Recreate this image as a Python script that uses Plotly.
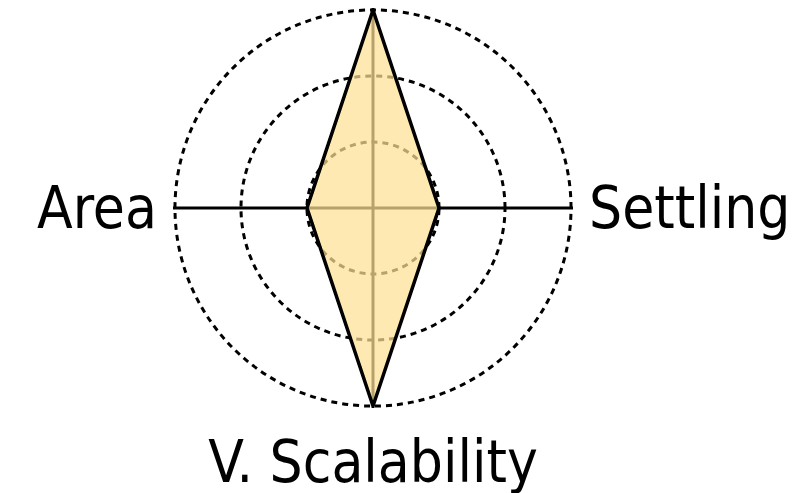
import plotly.graph_objects as go

# axis labels, clockwise from the top
labels = ["Tracking", "Settling", "V. Scalability", "Area"]
scores = [3, 1, 3, 1]
rings = [1, 2, 3]

fig = go.Figure()

fig.add_trace(
    go.Scatterpolar(r=scores + scores[:1],
                    theta=labels + labels[:1],
                    mode="lines",
                    fill="toself",
                    fillcolor="rgba(253,224,150,0.72)",
                    line=dict(color="black", width=3.5),
                    showlegend=False,
                    hoverinfo="skip"))

fig.update_layout(
    width=800, height=493,
    margin=dict(l=0, r=0, t=0, b=0),
    paper_bgcolor="white",
    font=dict(family="DejaVu Sans Condensed, DejaVu Sans",
              size=58, color="black"),
    polar=dict(
        domain=dict(x=[164/800, 566/800], y=[(493-400)/493, 1.0]),
        bgcolor="white",
        radialaxis=dict(range=[0, 3.03], tickvals=rings, showticklabels=False,
                        ticks="", showline=False,
                        gridcolor="black", gridwidth=3, griddash="6px,5px",
                        layer="below traces"),
        angularaxis=dict(direction="clockwise", rotation=90,
                         categoryorder="array", categoryarray=labels,
                         showline=False, ticks="outside", ticklen=4,
                         tickcolor="rgba(0,0,0,0)",
                         gridcolor="black", gridwidth=3,
                         layer="below traces")))

fig.write_html("out.html")
